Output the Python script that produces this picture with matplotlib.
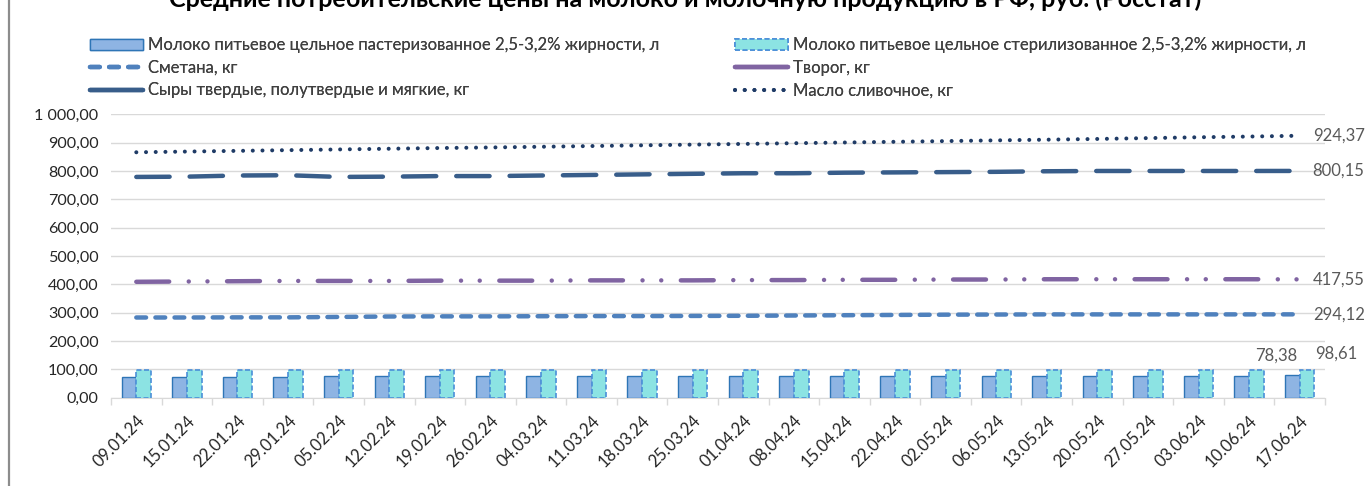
import matplotlib
matplotlib.use("Agg")
import matplotlib.pyplot as plt
from matplotlib.lines import Line2D
from matplotlib.patches import Rectangle
import numpy as np

plt.rcParams["font.family"] = ["Lato", "DejaVu Sans"]

TITLE = "Средние потребительские цены на молоко и молочную продукцию в РФ, руб. (Росстат)"

dates = ["09.01.24", "15.01.24", "22.01.24", "29.01.24", "05.02.24", "12.02.24",
         "19.02.24", "26.02.24", "04.03.24", "11.03.24", "18.03.24", "25.03.24",
         "01.04.24", "08.04.24", "15.04.24", "22.04.24", "02.05.24", "06.05.24",
         "13.05.24", "20.05.24", "27.05.24", "03.06.24", "10.06.24", "17.06.24"]

milk_past = [72.5, 72.6, 72.7, 72.8, 76.2, 76.4, 76.5, 76.6, 76.7, 76.8, 76.9, 77.0,
             77.1, 77.2, 77.3, 77.4, 77.6, 77.7, 77.8, 77.9, 78.0, 78.1, 78.2, 78.38]
milk_ster = [96.4, 96.5, 96.6, 96.7, 96.8, 96.9, 97.0, 97.1, 97.2, 97.3, 97.4, 97.5,
             97.6, 97.7, 97.8, 97.9, 98.0, 98.1, 98.2, 98.3, 98.4, 98.5, 98.55, 98.61]
smetana = [283, 283, 283.5, 283.5, 285, 286.5, 287, 287, 287.5, 288, 288, 288.5,
           289, 290, 291, 292, 293, 293.5, 294, 294, 294, 294, 294, 294.12]
tvorog = [409, 410, 411, 412, 412, 412, 413, 413, 413, 414, 414, 414,
          415, 415, 416, 416, 417, 417, 418, 418, 418, 418, 418, 417.55]
cheese = [779, 780, 784, 785, 779, 780, 782, 782, 784, 786, 788, 790,
          792, 792, 794, 795, 796, 797, 799, 800, 800, 800, 800, 800.15]
butter = [866, 868.5, 871, 873.5, 876, 878.5, 881, 883, 885.5, 888, 890.5, 893,
          895.5, 898, 900.5, 903, 905.5, 908, 910.5, 913, 916, 919, 921.5, 924.37]

labels = ["Молоко питьевое цельное пастеризованное 2,5-3,2% жирности, л",
          "Сметана, кг",
          "Сыры твердые, полутвердые и мягкие, кг",
          "Молоко питьевое цельное стерилизованное 2,5-3,2% жирности, л",
          "Творог, кг",
          "Масло сливочное, кг"]

W, H = 1366, 486
fig = plt.figure(figsize=(W / 100, H / 100), dpi=100)
ax = fig.add_axes([111 / W, 1 - 397.7 / H, 1214 / W, (397.7 - 114.3) / H])

x = np.arange(len(dates))
bw = 0.29
ax.bar(x - bw / 2, milk_past, bw, color="#8EB4E3", edgecolor="#2E75B6", lw=1, zorder=3)
ax.bar(x + bw / 2, milk_ster, bw, color="#8CE3E3", edgecolor="#4A8FD8", lw=1.2,
       linestyle=(0, (3, 1.5)), zorder=3)

lw = 3.2
line_kw = dict(lw=lw, dash_capstyle="round", solid_capstyle="round", zorder=4)
ax.plot(x, smetana, color="#4F81BD", dashes=(2.2, 2.1), **line_kw)
ax.plot(x, tvorog, color="#8064A2", dashes=(7.4, 4.4, 0.01, 4.2, 0.01, 4.4), **line_kw)
ax.plot(x, cheese, color="#385D8A", dashes=(7.5, 4.5), **line_kw)
ax.plot(x, butter, color="#1F3B66", lw=2.9, dashes=(0.01, 2.4),
        dash_capstyle="round", zorder=4)

ax.set_xlim(-0.5, len(dates) - 0.5)
ax.set_ylim(0, 1000)
ax.set_yticks(np.arange(0, 1001, 100))
ax.set_yticklabels([f"{v:,.2f}".replace(",", " ").replace(".", ",") for v in range(0, 1001, 100)],
                   fontsize=11.6, color="#262626")
ax.yaxis.grid(True, color="#D9D9D9", lw=1, zorder=0)
ax.tick_params(axis="y", length=0, pad=9)
ax.set_xticks(x)
ax.set_xticklabels(dates, rotation=45, ha="right", rotation_mode="anchor",
                   fontsize=12, color="#262626")
ax.tick_params(axis="x", length=0, pad=11)
ax.set_xticks(np.arange(-0.5, len(dates)), minor=True)
ax.tick_params(axis="x", which="minor", length=5, color="#D9D9D9", width=1)
for s in ["top", "right", "left"]:
    ax.spines[s].set_visible(False)
ax.spines["bottom"].set_color("#D9D9D9")

# value labels at the last point
last = len(dates) - 1
lab_kw = dict(textcoords="offset pixels", fontsize=12, color="#595959", va="center")
for series in (butter, cheese, tvorog, smetana):
    ax.annotate(f"{series[-1]:.2f}".replace(".", ","), (last, series[-1]),
                xytext=(13, 0), ha="left", **lab_kw)
ax.annotate(f"{milk_past[-1]:.2f}".replace(".", ","), (last, milk_past[-1]),
            xytext=(-23, 20), ha="center", **lab_kw)
ax.annotate(f"{milk_ster[-1]:.2f}".replace(".", ","), (last, milk_ster[-1]),
            xytext=(37, 16), ha="center", **lab_kw)

# legend
h_past = Rectangle((0, 0), 1, 1, facecolor="#8EB4E3", edgecolor="#2E75B6", lw=1)
h_ster = Rectangle((0, 0), 1, 1, facecolor="#8CE3E3", edgecolor="#4A8FD8", lw=1.2,
                   linestyle=(0, (3, 1.5)))
h_sm = Line2D([], [], color="#4F81BD", dashes=(2.2, 2.1), lw=lw, dash_capstyle="round")
h_tv = Line2D([], [], color="#8064A2", lw=lw, solid_capstyle="round")
h_ch = Line2D([], [], color="#385D8A", lw=lw, solid_capstyle="round")
h_bu = Line2D([], [], color="#1F3B66", lw=2.9, dashes=(0.01, 2.4), dash_capstyle="round")

leg_kw = dict(frameon=False, fontsize=12, handlelength=3.2, handleheight=0.65,
              handletextpad=0.3, labelspacing=0.4, borderpad=0, borderaxespad=0,
              loc="upper left")
for handles, labs, x0 in (([h_past, h_sm, h_ch], labels[:3], 90),
                          ([h_ster, h_tv, h_bu], labels[3:], 735)):
    leg = fig.legend(handles, labs, bbox_to_anchor=(x0 / W, 1 - 37 / H), **leg_kw)
    for t in leg.get_texts():
        t.set_color("#404040")
    fig.add_artist(leg)

fig.text(685 / W, 1 - 7 / H, TITLE, ha="center", va="baseline", fontsize=18,
         fontweight="bold", color="#000000")
fig.add_artist(Line2D([8.5 / W, 8.5 / W], [0, 1], color="#8C8C8C", lw=1.6,
                      transform=fig.transFigure))

fig.savefig("out.png", dpi=100)
